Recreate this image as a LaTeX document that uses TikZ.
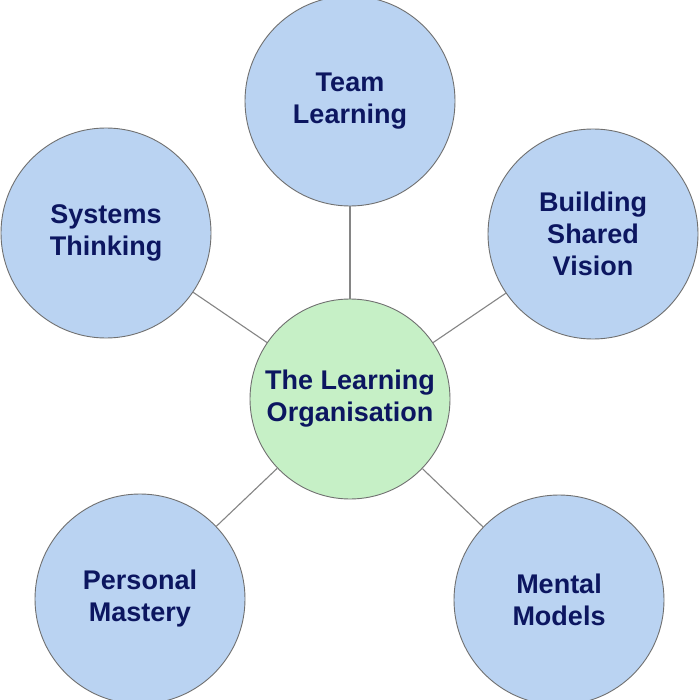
\documentclass[tikz,border=0pt]{standalone}
\usepackage{fontspec}
\setmainfont{Liberation Sans}
\definecolor{bluefill}{HTML}{BAD3F2}
\definecolor{greenfill}{HTML}{C6F0C6}
\definecolor{rimcol}{HTML}{707070}
\definecolor{linkcol}{HTML}{858585}
\definecolor{txtcol}{HTML}{0C1660}
\begin{document}
\begin{tikzpicture}[x=1pt,y=-1pt,
  bubble/.style={circle,draw=rimcol,line width=0.9pt,inner sep=0pt,
    text=txtcol,align=center,
    font=\fontsize{27}{32}\selectfont\bfseries},
  bluebub/.style={bubble,fill=bluefill,minimum size=210pt},
  greenbub/.style={bubble,fill=greenfill,minimum size=200pt},
  link/.style={draw=linkcol,line width=1.1pt}]
\useasboundingbox[fill=white] (0,0) rectangle (700,700);
\node[greenbub] (hub) at (350,399) {The Learning\\Organisation};
\node[bluebub] (team) at (350,101) {Team\\Learning};
\node[bluebub] (sys) at (106,233) {Systems\\Thinking};
\node[bluebub] (vis) at (593,234) {Building\\Shared\\Vision};
\node[bluebub] (pers) at (140,599) {Personal\\Mastery};
\node[bluebub] (ment) at (559,600) {Mental\\Models};
\begin{scope}[on background layer/.try]
\end{scope}
\draw[link] (hub) -- (team);
\draw[link] (hub) -- (sys);
\draw[link] (hub) -- (vis);
\draw[link] (hub) -- (pers);
\draw[link] (hub) -- (ment);
\end{tikzpicture}
\end{document}
